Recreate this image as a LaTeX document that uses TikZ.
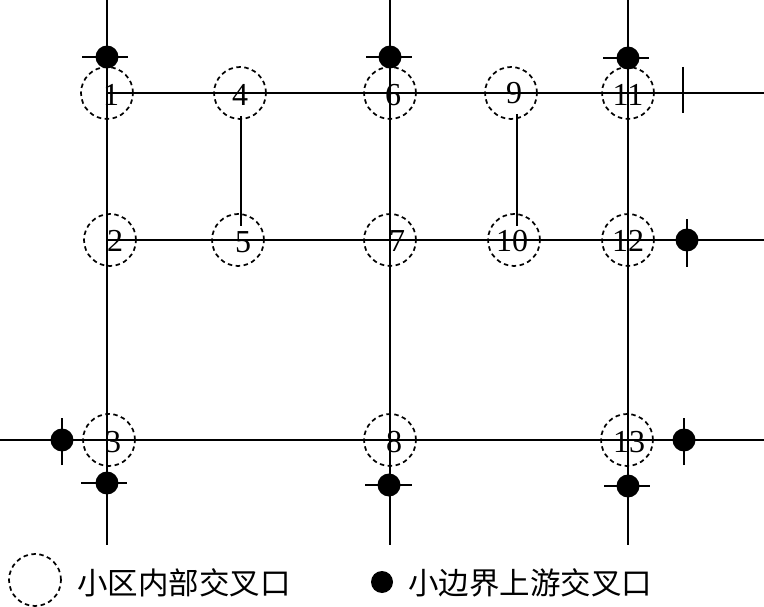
\documentclass[tikz,border=0pt]{standalone}
\usepackage{fontspec}
\setmainfont{Liberation Serif}
\newfontfamily\cjk{Noto Sans CJK SC}
\begin{document}
\begin{tikzpicture}[x=1pt,y=-1pt,
  road/.style={line width=1.7pt},
  inner/.style={circle,draw,dashed,dash pattern=on 4.5pt off 3.5pt,line width=1.7pt,minimum size=52pt,inner sep=0pt},
  up/.style={circle,fill=black,minimum size=23pt,inner sep=0pt},
  bar/.style={line width=1.7pt},
  num/.style={font=\fontsize{32}{34}\selectfont,inner sep=0pt},
  leg/.style={font=\cjk\fontsize{30.5}{33}\selectfont,anchor=west,inner sep=0pt}]
\useasboundingbox (0,0) rectangle (764,607);
% road end coordinates
\coordinate (vat) at (107,0);   \coordinate (vab) at (107,545);
\coordinate (vbt) at (390,0);   \coordinate (vbb) at (390,545);
\coordinate (vct) at (628,0);   \coordinate (vcb) at (628,545);
\coordinate (h1l) at (107,93);  \coordinate (h1r) at (764,93);
\coordinate (h2l) at (107,240); \coordinate (h2r) at (764,240);
\coordinate (h3l) at (0,440);   \coordinate (h3r) at (764,440);
\coordinate (s4t) at (241,116); \coordinate (s4b) at (241,226);
\coordinate (s9t) at (517,114); \coordinate (s9b) at (517,226);
\draw[road] (vat) -- (vab);
\draw[road] (vbt) -- (vbb);
\draw[road] (vct) -- (vcb);
\draw[road] (h1l) -- (h1r);
\draw[road] (h2l) -- (h2r);
\draw[road] (h3l) -- (h3r);
\draw[road] (s4t) -- (s4b);
\draw[road] (s9t) -- (s9b);
% inner intersections
\node[inner] (c1) at (107,93) {};
\node[inner] (c4) at (240,93) {};
\node[inner] (c6) at (390,93) {};
\node[inner] (c9) at (511,93) {};
\node[inner] (c11) at (628,93) {};
\node[inner] (c2) at (110,240) {};
\node[inner] (c5) at (238,240) {};
\node[inner] (c7) at (390,240) {};
\node[inner] (c10) at (514,240) {};
\node[inner] (c12) at (628,240) {};
\node[inner] (c3) at (109,440) {};
\node[inner] (c8) at (390,440) {};
\node[inner] (c13) at (627,440) {};
% numbers
\node[num] (n1) at (111,95) {1};
\node[num] (n4) at (240,95) {4};
\node[num] (n6) at (393,95) {6};
\node[num] (n9) at (514,93) {9};
\node[num] (n11) at (628,95) {11};
\node[num] (n2) at (115,241) {2};
\node[num] (n5) at (243,242) {5};
\node[num] (n7) at (397,241) {7};
\node[num] (n10) at (512,241) {10};
\node[num] (n12) at (628,241) {12};
\node[num] (n3) at (113,442) {3};
\node[num] (n8) at (394,442) {8};
\node[num] (n13) at (629,442) {13};
% upstream boundary intersections with bars
\node[up] (u1) at (107,57) {};
\draw[bar] ([xshift=-25pt]u1.center) -- ([xshift=21pt]u1.center);
\node[up] (u2) at (390,57) {};
\draw[bar] ([xshift=-24pt]u2.center) -- ([xshift=22pt]u2.center);
\node[up] (u3) at (628,58) {};
\draw[bar] ([xshift=-25pt]u3.center) -- ([xshift=21pt]u3.center);
\coordinate (t1) at (683,67); \coordinate (t2) at (683,113);
\draw[bar] (t1) -- (t2);
\node[up] (u4) at (687,240) {};
\draw[bar] ([yshift=-27pt]u4.center) -- ([yshift=21pt]u4.center);
\node[up] (u5) at (62,440) {};
\draw[bar] ([yshift=-25pt]u5.center) -- ([yshift=22pt]u5.center);
\node[up] (u6) at (107,483) {};
\draw[bar] ([xshift=-26pt]u6.center) -- ([xshift=20pt]u6.center);
\node[up] (u7) at (389,485) {};
\draw[bar] ([xshift=-24pt]u7.center) -- ([xshift=23pt]u7.center);
\node[up] (u8) at (684,440) {};
\draw[bar] ([yshift=-25pt]u8.center) -- ([yshift=22pt]u8.center);
\node[up] (u9) at (628,486) {};
\draw[bar] ([xshift=-24pt]u9.center) -- ([xshift=22pt]u9.center);
% legend
\node[inner] (lg1) at (35,580) {};
\node[leg] (lt1) at (77,583) {小区内部交叉口};
\node[circle,fill=black,minimum width=22pt,inner sep=0pt] (lg2) at (382,582) {};
\node[leg] (lt2) at (408,583) {小边界上游交叉口};
\end{tikzpicture}
\end{document}
